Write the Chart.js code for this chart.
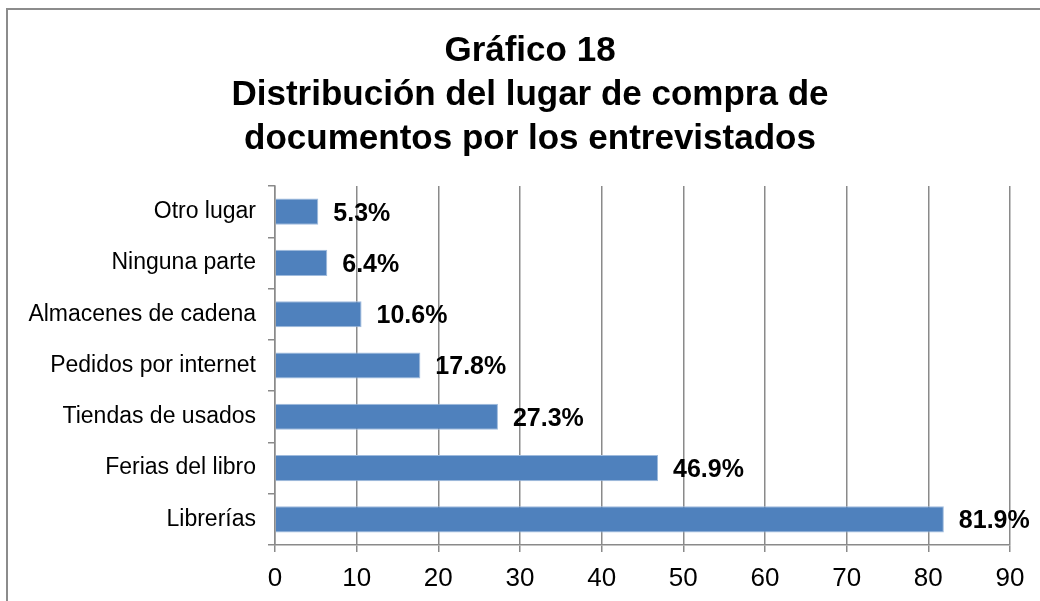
<!DOCTYPE html>
<html>
<head>
<meta charset="utf-8">
<script src="https://cdn.jsdelivr.net/npm/chart.js@4/dist/chart.umd.min.js"></script>
<style>
  html, body { margin: 0; padding: 0; background: #fff; }
  #wrap { position: relative; width: 1040px; height: 601px; }
</style>
</head>
<body>
<div id="wrap"><canvas id="bar-chart" width="1040" height="601"></canvas></div>
<script>
'use strict';

var titleLines = ['Gráfico 18', 'Distribución del lugar de compra de', 'documentos por los entrevistados'];
var categories = ['Otro lugar', 'Ninguna parte', 'Almacenes de cadena', 'Pedidos por internet',
    'Tiendas de usados', 'Ferias del libro', 'Librerías'];
var percentages = [5.3, 6.4, 10.6, 17.8, 27.3, 46.9, 81.9];
var xTicks = [0, 10, 20, 30, 40, 50, 60, 70, 80, 90];

var gridGray = '#8a8a8a';
var font = "'Liberation Sans', Arial, sans-serif";

// outer frame like the spreadsheet chart border, plus the title
// (title is centred on the whole frame, not the plot, so drawn here)
var framePlugin = {
    id: 'frame',
    beforeDraw: function(chart) {
        var ctx = chart.ctx;
        ctx.save();
        ctx.fillStyle = '#fff';
        ctx.fillRect(0, 0, chart.width, chart.height);
        ctx.strokeStyle = '#8c8c8c';
        ctx.lineWidth = 2;
        ctx.beginPath();
        ctx.moveTo(7, chart.height + 5);
        ctx.lineTo(7, 9);
        ctx.lineTo(chart.width + 5, 9);
        ctx.stroke();

        ctx.font = 'bold 35px ' + font;
        ctx.fillStyle = '#000';
        ctx.textAlign = 'center';
        ctx.textBaseline = 'middle';
        titleLines.forEach(function(line, i) {
            ctx.fillText(line, 530, 51 + i * 44);
        });
        ctx.restore();
    }
};

// bold value labels after each bar
var valueLabels = {
    id: 'valueLabels',
    afterDatasetsDraw: function(chart) {
        var ctx = chart.ctx;
        var meta = chart.getDatasetMeta(0);
        ctx.save();
        ctx.font = 'bold 25px ' + font;
        ctx.fillStyle = '#000';
        ctx.textAlign = 'left';
        ctx.textBaseline = 'middle';
        meta.data.forEach(function(bar, i) {
            ctx.fillText(percentages[i].toFixed(1) + '%', bar.x + 15, bar.y + 2);
        });
        ctx.restore();
    }
};

var ctx = document.getElementById('bar-chart').getContext('2d');
var barChart = new Chart(ctx, {
    type: 'bar',
    data: {
        labels: categories,
        datasets: [{
            label: 'Porcentaje',
            data: percentages,
            backgroundColor: '#4f81bd',
            borderColor: '#9fbbdd',
            borderWidth: 1,
            categoryPercentage: 1,
            barPercentage: 0.51
        }]
    },
    options: {
        indexAxis: 'y',
        responsive: false,
        animation: false,
        layout: { padding: { left: 8, right: 30, top: 186, bottom: 8 } },
        plugins: {
            legend: { display: false },
            tooltip: { enabled: false },
            title: { display: false }
        },
        scales: {
            x: {
                min: 0,
                max: 90,
                afterBuildTicks: function(scale) {
                    scale.ticks = xTicks.map(function(v) { return { value: v }; });
                },
                grid: { color: gridGray, lineWidth: 1.5, tickLength: 7 },
                border: { color: gridGray, width: 1.5 },
                ticks: { color: '#000', font: { family: font, size: 26 }, padding: 11 },
                afterFit: function(scale) { scale.height = 48; }
            },
            y: {
                offset: true,
                grid: { offset: true, drawOnChartArea: false, color: gridGray, lineWidth: 1.5, tickLength: 7 },
                border: { color: gridGray, width: 1.5 },
                ticks: { color: '#000', font: { family: font, size: 23 }, padding: 12 },
                afterFit: function(scale) { scale.width = 267; }
            }
        }
    },
    plugins: [framePlugin, valueLabels]
});
</script>
</body>
</html>
